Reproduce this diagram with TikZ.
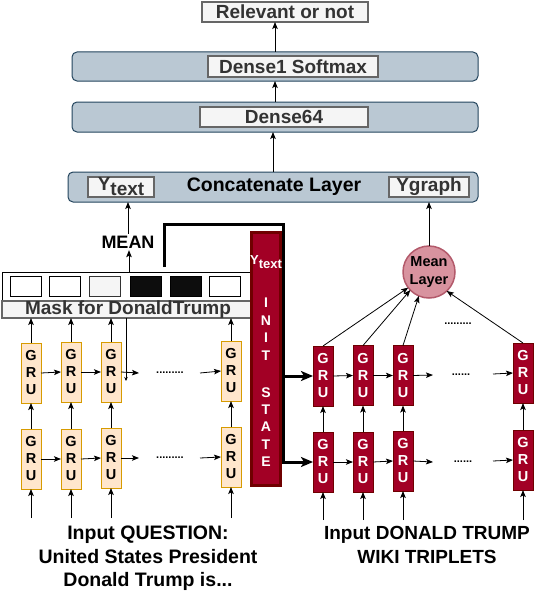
\documentclass[tikz,border=0pt]{standalone}
\usepackage{fontspec}
\setmainfont{Liberation Sans}
\usetikzlibrary{arrows.meta,calc}
\definecolor{bgblue}{HTML}{BAC8D3}
\definecolor{bdblue}{HTML}{23445D}
\definecolor{ltgray}{HTML}{F5F5F5}
\definecolor{mdgray}{HTML}{666666}
\definecolor{dkgray}{HTML}{333333}
\definecolor{orfill}{HTML}{FFE6CC}
\definecolor{ordraw}{HTML}{D79B00}
\definecolor{rdfill}{HTML}{A20025}
\definecolor{rddraw}{HTML}{6F0000}
\definecolor{pkfill}{HTML}{D8939F}
\definecolor{pkdraw}{HTML}{B35A6B}
\newcommand\fsz[2]{\fontsize{#1}{#2}\selectfont\bfseries}
\begin{document}
\begin{tikzpicture}[x=1pt,y=-1pt,
  every node/.style={inner sep=0pt, outer sep=0pt},
  outerbox/.style={draw=bdblue, fill=bgblue, rounded corners=5pt, line width=1pt},
  innerbox/.style={draw=mdgray, fill=ltgray, line width=1.5pt, text=dkgray, font=\fsz{19}{22}},
  grubox/.style={minimum width=20pt, minimum height=60pt, line width=1pt, align=center, font=\fsz{14.5}{17}},
  gruor/.style={grubox, draw=ordraw, fill=orfill, text=black},
  grurd/.style={grubox, draw=rddraw, fill=rdfill, text=white},
  sq/.style={draw=black, line width=0.8pt, minimum width=31pt, minimum height=20pt},
  arr/.style={-{Stealth[length=7pt,width=5.5pt,inset=1.5pt]}, line width=0.8pt},
  tinyarr/.style={-{Stealth[length=4pt,width=3.5pt]}, line width=0.6pt},
  thickarr/.style={-{Stealth[length=12pt,width=10pt,inset=3pt]}, line width=3pt},
  dotstext/.style={font=\fsz{11}{11}},
]
\useasboundingbox (0,0) rectangle (554,594);

% ---------- top stack ----------
\node[innerbox, minimum width=166pt, minimum height=20pt] (rel) at (285,12) {Relevant or not};
\node[outerbox, minimum width=406pt, minimum height=29pt] (d1o) at (275,66.5) {};
\node[innerbox, minimum width=170pt, minimum height=21pt] (d1i) at (293,66.5) {Dense1 Softmax};
\node[outerbox, minimum width=406pt, minimum height=30pt] (d64o) at (275,117) {};
\node[innerbox, minimum width=168pt, minimum height=20pt] (d64i) at (284,117) {Dense64};
\node[outerbox, minimum width=410pt, minimum height=30pt] (cc) at (273,187) {};
\node[font=\fsz{19.5}{22}] (cctext) at (274,187) {Concatenate Layer};
\node[innerbox, minimum width=66pt, minimum height=20pt] (yt) at (121,187) {Y\raisebox{-5pt}{text}};
\node[innerbox, minimum width=80pt, minimum height=20pt] (yg) at (429,187) {Ygraph};

\draw[arr] (d1o.north) -- (d1o.north |- rel.south);
\draw[arr] (d64o.north) -- (d64o.north |- d1o.south);
\draw[arr] (cc.north) -- (cc.north |- d64o.south);

% ---------- MEAN ----------
\node[font=\fsz{18}{20}, inner sep=2pt] (mean) at (128,242) {MEAN};
\draw[arr] (mean.north) -- (mean.north |- cc.south);

% ---------- mask ----------
\node[draw=black, fill=white, line width=0.8pt, minimum width=258pt, minimum height=29pt] (maskc) at (131,286.5) {};
\node[draw=mdgray, fill=ltgray, line width=1.5pt, minimum width=258pt, minimum height=17pt] (masklbl) at (131,309.5) {};
\node[text=dkgray, font=\fsz{19}{22}] (masktext) at (128,309.5) {Mask for DonaldTrump};
\node[sq, fill=white] (s1) at (25.5,286) {};
\node[sq, fill=white] (s2) at (64.5,286) {};
\node[sq, fill=ltgray, draw=dkgray] (s3) at (105,286) {};
\node[sq, fill=black!95] (s4) at (145.5,286) {};
\node[sq, fill=black!95] (s5) at (185.5,286) {};
\node[sq, fill=white] (s6) at (225,286) {};
\coordinate (ma) at (129,0);
\draw[arr] (ma |- maskc.north) -- (ma |- mean.south);

% ---------- INIT STATE bar ----------
\node[draw=rddraw, fill=rdfill, line width=2.5pt, minimum width=29pt, minimum height=253pt] (bar) at (266,359) {};
\node[text=white, font=\fsz{13}{15}] (bary) at (266,262) {Y\raisebox{-4pt}{text}};
\node[text=white, align=center, font=\fsz{14}{17.6}] (init) at (266,329) {I\\N\\I\\T};
\node[text=white, align=center, font=\fsz{14}{17.3}] (state) at (266,427) {S\\T\\A\\T\\E};

% ---------- left GRUs ----------
\node[gruor] (lt1) at (31,373) {G\\R\\U};
\node[gruor] (lt2) at (71,372) {G\\R\\U};
\node[gruor] (lt3) at (111,372) {G\\R\\U};
\node[gruor] (lt4) at (231,371) {G\\R\\U};
\node[gruor] (lb1) at (31,459) {G\\R\\U};
\node[gruor] (lb2) at (71,459) {G\\R\\U};
\node[gruor] (lb3) at (111,458) {G\\R\\U};
\node[gruor] (lb4) at (231,457) {G\\R\\U};

\coordinate (lte) at (139,373);
\coordinate (lts) at (200,373);
\coordinate (lbe) at (139,458);
\coordinate (lbs) at (200,458);
\node[dotstext] (ldt) at (170,373) {.........};
\node[dotstext] (ldb) at (170,458) {.........};
\draw[arr] (lt1.east) -- (lt2.west);
\draw[arr] (lt2.east) -- (lt3.west);
\draw[arr] (lt3.east) -- (lte);
\draw[arr] (lts) -- (lt4.west);
\draw[arr] (lb1.east) -- (lb2.west);
\draw[arr] (lb2.east) -- (lb3.west);
\draw[arr] (lb3.east) -- (lbe);
\draw[arr] (lbs) -- (lb4.west);

\coordinate (inl) at (0,518);
\foreach \i in {1,2,3,4}{
  \draw[arr] (lb\i.north) -- (lt\i.south);
  \draw[arr] (lt\i.north) -- (lt\i.north |- masklbl.south);
  \draw[arr] (lb\i.south |- inl) -- (lb\i.south);
}
\coordinate (dl) at (126,381);
\draw[tinyarr] (dl |- masklbl.south) -- (dl);

% ---------- right GRUs ----------
\node[grurd] (rt1) at (323,376) {G\\R\\U};
\node[grurd] (rt2) at (363,375.5) {G\\R\\U};
\node[grurd] (rt3) at (403,375.5) {G\\R\\U};
\node[grurd] (rt4) at (523,373) {G\\R\\U};
\node[grurd] (rb1) at (323,462) {G\\R\\U};
\node[grurd] (rb2) at (363,462) {G\\R\\U};
\node[grurd] (rb3) at (403,461) {G\\R\\U};
\node[grurd] (rb4) at (523,460) {G\\R\\U};

\coordinate (rte) at (433,375);
\coordinate (rts) at (493,374);
\coordinate (rbe) at (433,462);
\coordinate (rbs) at (493,461);
\node[dotstext] (rdt) at (461,375) {......};
\node[dotstext] (rdb) at (463,462) {......};
\draw[arr] (rt1.east) -- (rt2.west);
\draw[arr] (rt2.east) -- (rt3.west);
\draw[arr] (rt3.east) -- (rte);
\draw[arr] (rts) -- (rt4.west);
\draw[arr] (rb1.east) -- (rb2.west);
\draw[arr] (rb2.east) -- (rb3.west);
\draw[arr] (rb3.east) -- (rbe);
\draw[arr] (rbs) -- (rb4.west);

\coordinate (inr) at (0,520);
\foreach \i in {1,2,3,4}{
  \draw[arr] (rb\i.north) -- (rt\i.south);
  \draw[arr] (rb\i.south |- inr) -- (rb\i.south);
}

% ---------- mean layer ----------
\node[circle, draw=pkdraw, fill=pkfill, line width=1.5pt, minimum size=52pt, align=center, font=\fsz{14.5}{18}] (ml) at (429,272) {Mean\\Layer};
\draw[arr] (ml.north) -- (ml.north |- cc.south);
\draw[arr] (rt1.north) -- (ml.217);
\draw[arr] (rt2.north) -- (ml.224);
\draw[arr] (rt3.north) -- (ml.247);
\draw[arr] (rt4.north) -- (ml.313);
\node[dotstext] (rdm) at (458,324) {.........};

% ---------- thick init-state connector ----------
\coordinate (ts) at (164,267);
\coordinate (tc) at (283,224);
\draw[line width=3pt] (ts) -- (ts |- tc) -- (tc) -- (tc |- rt1.west);
\draw[thickarr] (tc |- rt1.west) -- (rt1.west);
\draw[thickarr] (tc |- rt1.west) -- (tc |- rb1.west) -- (rb1.west);

% ---------- bottom texts ----------
\node[align=center, font=\fsz{19.5}{23.5}] (qtext) at (148,558.5) {Input QUESTION:\\United States President\\Donald Trump is...};
\node[align=center, font=\fsz{19}{24}] (wtext) at (427,545) {Input DONALD TRUMP\\WIKI TRIPLETS};
\end{tikzpicture}
\end{document}
